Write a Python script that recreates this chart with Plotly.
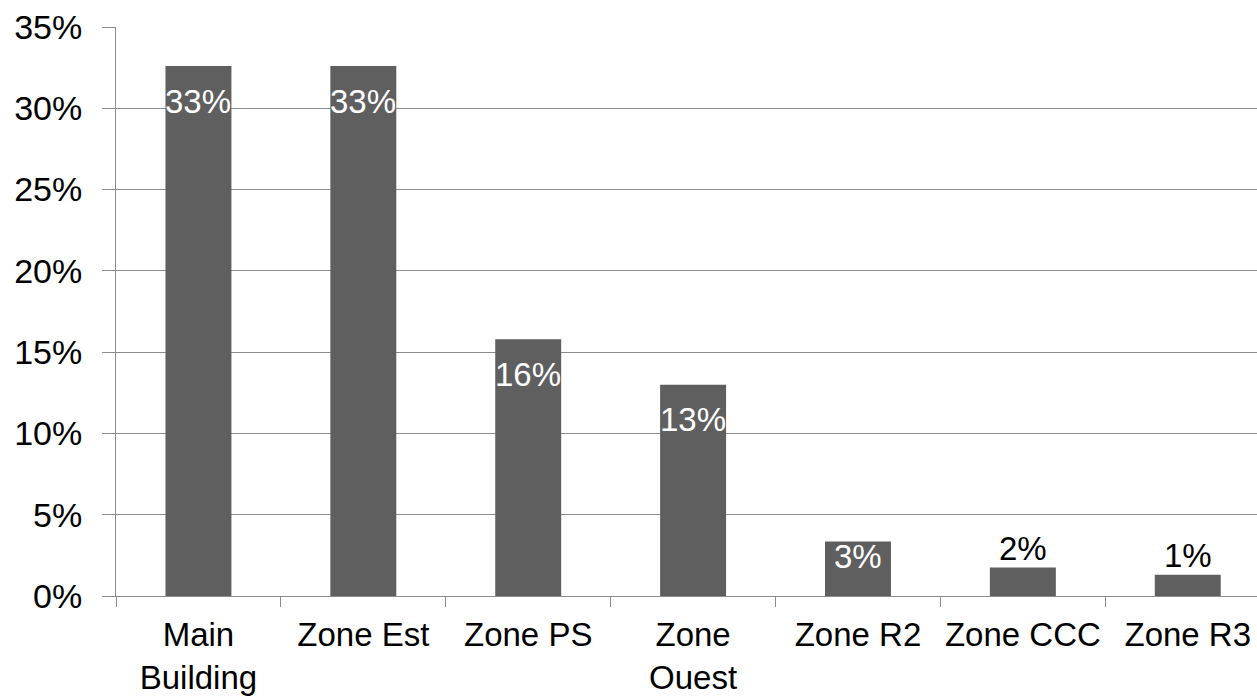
import plotly.graph_objects as go

categories = ["Main<br>Building", "Zone Est", "Zone PS", "Zone<br>Ouest", "Zone R2", "Zone CCC", "Zone R3"]
values = [32.6, 32.6, 15.8, 13.0, 3.35, 1.75, 1.3]
labels = ["33%", "33%", "16%", "13%", "3%", "2%", "1%"]
y_ticks = [0, 5, 10, 15, 20, 25, 30, 35]
y_tick_labels = ["0%", "5%", "10%", "15%", "20%", "25%", "30%", "35%"]

BAR = "#5f5f5f"
GRID = "#8c8c8c"
FONT = "Liberation Sans, Arial, sans-serif"

W, H = 1257, 698
top, bottom, left = 27, 102, 116
plot_h = H - top - bottom
ymax = 35

fig = go.Figure(go.Bar(
    x=categories, y=values, width=0.4,
    marker=dict(color=BAR, line=dict(width=0)),
    hoverinfo="skip",
))

annotations = []
for c, v, t in zip(categories, values, labels):
    px = v / ymax * plot_h
    if px > 40:
        annotations.append(dict(x=c, y=v, text=t, showarrow=False, xref="x", yref="y",
                                yanchor="middle", yshift=-min(35, 0.28 * px),
                                font=dict(family=FONT, size=33, color="white")))
    else:
        annotations.append(dict(x=c, y=v, text=t, showarrow=False, xref="x", yref="y",
                                yanchor="middle", yshift=19,
                                font=dict(family=FONT, size=33, color="black")))

fig.update_layout(
    width=W, height=H,
    margin=dict(l=left, r=0, t=top, b=bottom, pad=0, autoexpand=False),
    paper_bgcolor="white", plot_bgcolor="white",
    showlegend=False,
    font=dict(family=FONT, size=33, color="black"),
    annotations=annotations,
    xaxis=dict(
        type="category",
        range=[-0.5, 6.42],
        tickson="boundaries", ticks="outside", ticklen=10, tickcolor=GRID, tickwidth=1,
        showline=True, linecolor=GRID, linewidth=1,
        showgrid=False, zeroline=False,
        tickfont=dict(family=FONT, size=33, color="black"),
        ticklabelstandoff=9,
        automargin=False,
        fixedrange=True,
    ),
    yaxis=dict(
        range=[0, ymax],
        tickmode="array", tickvals=y_ticks, ticktext=y_tick_labels,
        ticks="outside", ticklen=13, tickcolor=GRID, tickwidth=1,
        showline=True, linecolor=GRID, linewidth=1,
        showgrid=True, gridcolor=GRID, gridwidth=1,
        zeroline=False,
        tickfont=dict(family=FONT, size=34, color="black"),
        ticklabelstandoff=13,
        automargin=False,
        fixedrange=True,
    ),
)

fig.write_html(
    "out.html",
    config={"displayModeBar": False},
    post_script="document.body.style.margin='0';document.body.style.overflow='hidden';",
)
